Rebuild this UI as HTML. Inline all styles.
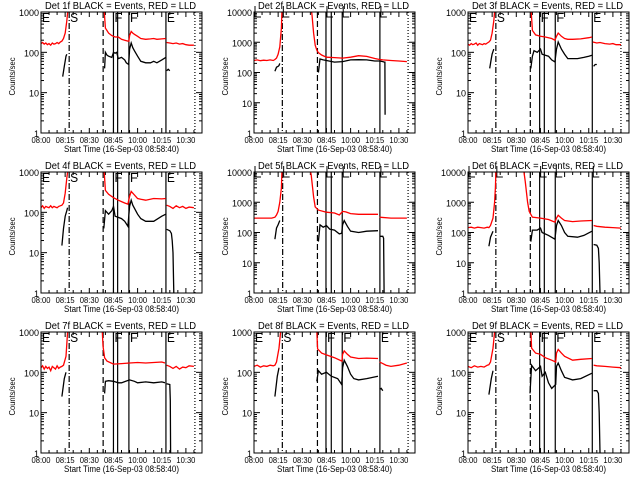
<!DOCTYPE html>
<html><head><meta charset="utf-8"><style>
body{margin:0;background:#fff;}
svg{display:block;font-family:"Liberation Sans",sans-serif;}
</style></head><body>
<svg id="chart" width="640" height="480" viewBox="0 0 640 480" xmlns="http://www.w3.org/2000/svg">
<rect width="640" height="480" fill="#fff"/>
</svg>
<script>
// ---- data ----
const xTickLabels = ["08:00","08:15","08:30","08:45","10:00","10:15","10:30"];
const xTickMinutes = [0,15,30,45,60,75,90];
const panelNames = ["Det 1f","Det 2f","Det 3f","Det 4f","Det 5f","Det 6f","Det 7f","Det 8f","Det 9f"];
const panelYMax = [1000,10000,1000,1000,10000,10000,1000,1000,1000];
const yTickLabels3 = ["1","10","100","1000"];
const yTickLabels4 = ["1","10","100","1000","10000"];
const lineDashDot = [17.5,17.6,17.3,17.5,17.8,17.3,17.5,17.6,17.3];
const lineDashed = [38.6,39.4,38.7,38.6,39.4,38.7,38.6,39.4,38.7];
const lineF1 = [45.0,44.7,44.5,45.0,44.7,44.5,45.0,44.7,44.5];
const lineF2 = [47.6,48.0,47.4,47.6,48.0,47.4,47.6,48.0,47.4];
const lineF3 = [54.6,54.8,54.2,54.6,54.8,54.2,54.6,54.8,54.2];
const lineE2 = [77.6,78.2,77.2,77.6,78.2,77.2,77.6,78.2,77.2];
const lineDotted = [95.6,95.7,95.0,95.6,95.7,95.0,95.6,95.7,95.0];

const p1RedT=[0,1,2,3,4,5,6,7,8,9,10,11,12,13,14,15,16,17,17.5,null,38.5,40,42,44,45,46,48,50,52,54,54.6,55,56,57,58,60,62,65,68,70,72,75,77.5,null,78,80,82,84,86,88,90,92,95];
const p1RedV=[165,175,160,170,155,165,150,170,160,165,175,165,180,190,220,300,600,1500,3000,null,3000,400,300,260,250,240,240,210,200,190,190,260,330,300,280,250,220,210,215,220,210,215,220,null,175,170,165,170,160,165,155,150,150];
const p1BlkT=[13.5,14.5,15.5,16,null,39.5,40,41,42,44,45,46,47,48,50,52,53,54.5,55,56,57,58,60,62,65,68,70,72,75,77.5,null,78,79,80];
const p1BlkV=[25,45,80,90,null,40,100,85,80,75,100,95,100,70,75,65,55,50,120,170,130,110,80,60,55,55,60,55,65,75,null,35,38,35];

const p2RedT=[0,2,4,6,8,10,12,13,14,15,16,17,17.5,null,35,36,37,38,39,40,42,45,50,55,60,65,70,75,78,80,85,90,95];
const p2RedV=[250,260,245,255,250,260,250,270,300,400,700,3000,20000,null,20000,8000,2000,800,550,450,380,320,310,300,320,360,340,290,270,260,250,240,230];
const p2BlkT=[13,14,15,15.5,16,null,40,41,43,45,50,55,60,65,70,75,78,80,81,81.3,81.4];
const p2BlkV=[110,150,160,170,200,null,100,280,260,250,220,230,260,265,260,240,240,230,220,220,4];

const p3RedT=[0,1,2,3,4,5,6,7,8,9,10,11,12,13,14,15,16,16.5,17,null,38.5,40,42,45,48,50,52,54,55,56,58,60,62,65,70,75,77,null,77.5,80,82,85,88,90,92,95];
const p3RedV=[160,150,165,155,160,170,150,165,160,155,165,160,170,180,200,300,600,1000,3000,null,3000,350,270,250,240,230,220,200,250,300,250,220,210,210,215,230,240,null,180,170,175,165,160,165,155,155];
const p3BlkT=[13.5,14.5,15,16,null,39,40,41,43,45,46,48,50,52,54,55,56,58,60,62,65,68,72,75,77,null,78,79,80];
const p3BlkV=[40,70,90,120,null,40,80,110,100,120,90,85,80,65,58,120,180,120,90,70,70,70,75,80,85,null,45,50,50];

const p4RedT=[0,1,2,3,4,5,6,7,8,9,10,11,12,13,14,15,16,16.5,17,null,38.5,40,42,45,48,50,52,54,55,56,58,60,62,65,70,75,77.5,null,78,80,82,84,86,88,90,92,95];
const p4RedV=[130,145,125,140,135,130,145,130,140,135,130,140,145,150,170,300,700,1000,3000,null,3000,350,280,230,200,185,170,160,250,330,270,220,210,200,220,215,220,null,150,140,125,145,130,140,125,135,130];
const p4BlkT=[13,14,15,16,16.5,null,39,40,42,44,45,46,48,50,52,54,55,56,57,60,62,65,70,75,77.5,null,78,80,81,81.5,82,82.5];
const p4BlkV=[15,40,80,110,130,null,40,110,90,110,140,80,75,70,60,45,140,200,150,90,70,60,60,80,90,null,38,35,30,20,10,1];

const p5RedT=[0,4,8,11,13,14,15,16,17,17.5,null,34,35.5,37,38,40,45,50,53,55,57,60,65,70,77,null,78,85,90,95];
const p5RedV=[300,300,300,300,320,380,500,1000,3000,20000,null,20000,8000,1500,700,550,470,440,380,500,480,420,400,400,400,null,320,300,300,300];
const p5BlkT=[13,14,15,16,null,40,41,43,45,47,50,53,54.5,55,56,58,60,65,70,77,null,78,80,80.5,80.8];
const p5BlkV=[60,140,180,250,null,50,180,150,170,130,120,90,95,180,250,160,110,100,110,115,null,75,75,65,1];

const p6RedT=[0,2,4,6,8,10,12,13,14,15.5,16.5,17,17.5,null,34,35.5,37,38,40,45,50,54,55,56,58,60,65,70,77,null,78,80,85,90,95];
const p6RedV=[145,150,140,150,145,140,150,145,170,300,1000,3000,20000,null,20000,5000,1000,500,320,300,270,220,300,370,300,250,230,240,250,null,170,160,150,145,140];
const p6BlkT=[13,14,15.5,null,39,40,43,45,46,50,54,55,56,58,60,62,68,72,77,null,78,80,81,81.5,82];
const p6BlkV=[35,70,110,null,50,120,120,140,100,80,60,170,250,170,100,75,70,80,110,null,40,38,30,10,1];

const p7RedT=[0,1,2,3,4,5,6,7,8,9,10,11,12,13,14,15.5,16.5,17,null,37.5,38.5,39.5,41,45,50,55,60,65,70,75,77,null,78,80,82,84,86,88,90,92,95];
const p7RedV=[130,145,120,140,125,135,110,140,130,120,145,125,135,140,150,250,1000,3000,null,3000,450,230,190,160,165,170,175,170,175,180,170,null,150,140,125,140,120,135,130,145,140];
const p7BlkT=[13,14.5,15.5,null,39.5,40,42,45,48,50,55,58,60,65,70,75,77,null,78,80,80.3,80.5];
const p7BlkV=[25,70,100,null,30,60,62,60,55,55,65,60,55,58,55,58,55,null,52,50,20,1];

const p8RedT=[0,2,4,6,8,10,12,13,14,15.5,16.5,17,null,38.5,39.5,42,45,50,54.6,55,56,58,60,65,70,77,null,78,80,82,85,90,95];
const p8RedV=[140,150,135,145,140,150,145,150,180,400,1000,3000,null,3000,380,300,270,230,190,280,340,280,240,220,225,220,null,180,165,150,140,150,170];
const p8BlkT=[13,14.5,15.5,null,39,40,42,45,48,52,54.5,55,56,58,60,62,65,70,77,null,78,79,80];
const p8BlkV=[25,80,130,null,60,110,90,100,80,70,50,130,200,140,90,70,65,70,80,null,38,40,35];

const p9RedT=[0,2,4,6,8,10,12,13,14,15.5,16.5,17,null,38.5,39.5,42,45,48,52,54.5,55,56,58,60,65,70,77,null,78,80,85,90,95];
const p9RedV=[140,130,145,135,140,135,150,155,180,400,1000,3000,null,3000,400,300,280,230,200,180,300,370,300,250,200,210,220,null,150,145,140,135,130];
const p9BlkT=[13,14.5,15.5,null,38.5,39.5,42,45,46,48,50,52,54.5,55,56,58,60,65,70,77,null,78,80,81,81.5,82];
const p9BlkV=[28,70,110,null,30,150,110,140,80,100,55,40,50,140,170,110,75,65,70,95,null,35,35,30,10,1];

const redT=[p1RedT,p2RedT,p3RedT,p4RedT,p5RedT,p6RedT,p7RedT,p8RedT,p9RedT];
const redV=[p1RedV,p2RedV,p3RedV,p4RedV,p5RedV,p6RedV,p7RedV,p8RedV,p9RedV];
const blkT=[p1BlkT,p2BlkT,p3BlkT,p4BlkT,p5BlkT,p6BlkT,p7BlkT,p8BlkT,p9BlkT];
const blkV=[p1BlkV,p2BlkV,p3BlkV,p4BlkV,p5BlkV,p6BlkV,p7BlkV,p8BlkV,p9BlkV];

// ---- drawing ----
const NS="http://www.w3.org/2000/svg";
const svg=document.getElementById('chart');
function mk(tag,attrs,parent){const e=document.createElementNS(NS,tag);for(const k in attrs)e.setAttribute(k,attrs[k]);(parent||svg).appendChild(e);return e;}
const lefts=[41,254,468], W=161, H=121, TMAX=100;

for(let p=0;p<9;p++){
  const col=p%3,row=Math.floor(p/3);
  const L=lefts[col],T=12+160*row,B=T+H,R=L+W;
  const dec=Math.log10(panelYMax[p]);
  const xs=t=>L+t*W/TMAX;
  const ys=v=>B-Math.log10(Math.max(v,1))/dec*H;
  const g=mk('g',{});
  
  
  const cid='clip'+p;
  const cp=mk('clipPath',{id:cid},g);mk('rect',{x:L,y:T,width:W,height:H},cp);
  // title
  const tt=mk('text',{x:L+4,y:T-3,'font-size':10,textLength:151,lengthAdjust:'spacingAndGlyphs',fill:'#000'},g);
  tt.textContent=panelNames[p]+" BLACK = Events, RED = LLD";
  
  
  // y label
  const yl=mk('text',{x:0,y:0,'font-size':8,'text-anchor':'middle',textLength:38,lengthAdjust:'spacingAndGlyphs',transform:`translate(${L-26},${T+H/2+4}) rotate(-90)`},g);
  yl.textContent="Counts/sec";
  
  
  // y ticks
  const labs=dec===4?yTickLabels4:yTickLabels3;
  for(let d=0;d<=dec;d++){
    const y=B-d/dec*H;
    mk('line',{x1:L,x2:L+6,y1:y,y2:y,stroke:'#000'},g);
    mk('line',{x1:R,x2:R-6,y1:y,y2:y,stroke:'#000'},g);
    const lt=mk('text',{x:L-2,y:y+4,'font-size':9,'text-anchor':'end'},g);
    lt.textContent=labs[d];
    
    
    if(d<dec){for(let m=2;m<10;m++){const ym=B-(d+Math.log10(m))/dec*H;
      mk('line',{x1:L,x2:L+3,y1:ym,y2:ym,stroke:'#000'},g);mk('line',{x1:R,x2:R-3,y1:ym,y2:ym,stroke:'#000'},g);}}
  }
  // x ticks
  xTickMinutes.forEach((m,i)=>{
    const x=xs(m);
    mk('line',{x1:x,x2:x,y1:B,y2:B-5,stroke:'#000'},g);
    mk('line',{x1:x,x2:x,y1:T,y2:T+5,stroke:'#000'},g);
    for(let k=1;k<3;k++){const xm=xs(m+k*5);if(xm<R){mk('line',{x1:xm,x2:xm,y1:B,y2:B-3,stroke:'#000'},g);mk('line',{x1:xm,x2:xm,y1:T,y2:T+3,stroke:'#000'},g);}}
    const xt=mk('text',{x:x-9.5,y:B+10,'font-size':8,textLength:19,lengthAdjust:'spacingAndGlyphs'},g);
    xt.textContent=xTickLabels[i];
    
    
  });
  const xtl=mk('text',{x:L+23,y:B+19,'font-size':9,textLength:115,lengthAdjust:'spacingAndGlyphs'},g);
  xtl.textContent="Start Time (16-Sep-03 08:58:40)";
  
  
  // vertical event lines
  const vl=[[lineDashDot[p],'6,2,1,2'],[lineDashed[p],'6,3'],[lineF1[p],''],[lineF2[p],''],[lineF3[p],''],[lineE2[p],''],[lineDotted[p],'1,2']];
  vl.forEach(([t,da])=>{const a={x1:xs(t),x2:xs(t),y1:T,y2:B,stroke:'#000','stroke-width':1.2};if(da)a['stroke-dasharray']=da;
    const ln=mk('line',a,g);
    
    });
  // markers
  const mk5=[[0,'E'],[lineDashDot[p],'S'],[lineF1[p],'F'],[lineF3[p],'F'],[lineE2[p],'E']];
  mk5.forEach(([t,s])=>{
    const x=xs(t)+1;
    if(dec===3){const mt=mk('text',{x:x,y:T+10,'font-size':13,textLength:8,lengthAdjust:'spacingAndGlyphs'},g);mt.textContent=s;
      
      }
    else{const mp=mk('path',{d:`M${x},${T-6}V${T+5}H${x+6}`,fill:'none',stroke:'#000'},g);
      
      }
  });
  // series
  function series(ts,vs,color,name){
    let d='',pen=false;
    for(let i=0;i<ts.length;i++){
      if(ts[i]===null||vs[i]===null){pen=false;continue;}
      d+=(pen?'L':'M')+xs(ts[i]).toFixed(1)+','+ys(vs[i]).toFixed(1);pen=true;
    }
    const s=mk('path',{d:d,fill:'none',stroke:color,'stroke-width':1.3,'clip-path':`url(#${cid})`},g);
    
    
  }
  series(redT[p],redV[p],'#ff0000','lld-red-series');
  series(blkT[p],blkV[p],'#000','events-black-series');
  const fr=mk('rect',{x:L,y:T,width:W,height:H,fill:'none',stroke:'#000','stroke-width':1},g);
  
  
}
</script>
</body></html>
